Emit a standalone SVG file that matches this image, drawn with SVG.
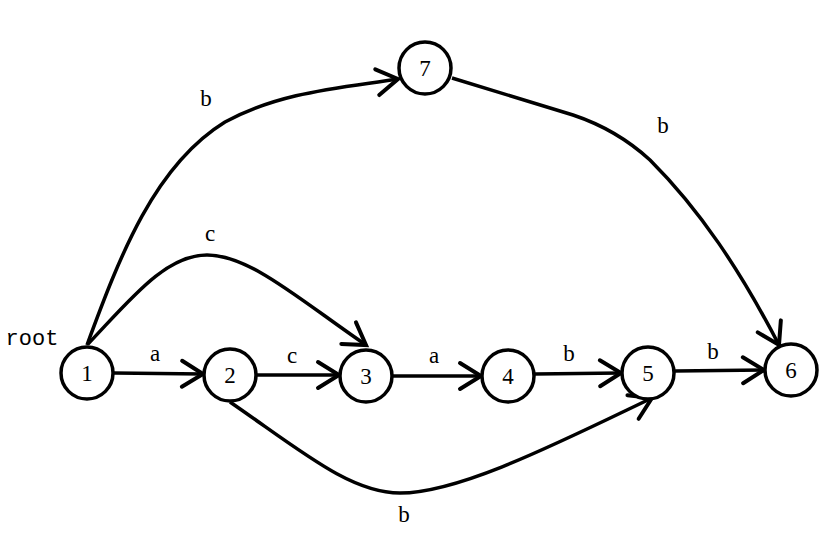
<svg xmlns="http://www.w3.org/2000/svg" width="836" height="536" viewBox="0 0 836 536">
<style>
.n circle{fill:#fff;stroke:#000;stroke-width:3.5}
text{font-family:"Liberation Serif","DejaVu Serif",serif;font-size:23px;fill:#000;text-anchor:middle}
text.mono{font-family:"Liberation Mono","DejaVu Sans Mono",monospace;font-size:22px}
.e path{fill:none;stroke:#000;stroke-width:3.5;marker-end:url(#ah)}
</style>
<defs>
<marker id="ah" markerUnits="userSpaceOnUse" markerWidth="30" markerHeight="30" refX="0" refY="0" orient="auto" overflow="visible">
<path d="M-21,-13 L0,0 L-21,13" fill="none" stroke="#000" stroke-width="4" stroke-linecap="round" stroke-linejoin="miter"/>
</marker>
</defs>
<rect width="836" height="536" fill="#fff"/>
<g id="connectors" class="e">
<path d="M114,373 L203,374"/>
<path d="M257,375 L339,375"/>
<path d="M393,376 L481,376"/>
<path d="M535,374 L621,373"/>
<path d="M675,371 L764,370"/>
<path d="M87,345 C120,255 155,165 225,122 C280,92 340,88 398,79"/>
<path d="M452,78 L573,115 C600,124 625,137 650,160 C700,210 740,270 779,345"/>
<path d="M88,344 C130,300 165,255 207,255 C250,255 300,300 366,345"/>
<path d="M230,402 C300,450 350,493 400,493 C460,493 560,442 652,398"/>
</g>
<g id="labels">
<text x="155" y="361">a</text>
<text x="292" y="363">c</text>
<text x="434" y="363">a</text>
<text x="569" y="361">b</text>
<text x="713" y="359">b</text>
<text x="206" y="106">b</text>
<text x="663" y="133">b</text>
<text x="210" y="241">c</text>
<text x="404" y="522">b</text>
<text class="mono" x="32" y="345">root</text>
</g>
<g id="n1" class="n"><circle cx="87" cy="373" r="26"/><text x="87" y="381">1</text></g>
<g id="n2" class="n"><circle cx="230" cy="375" r="26"/><text x="230" y="383">2</text></g>
<g id="n3" class="n"><circle cx="366" cy="376" r="26"/><text x="366" y="384">3</text></g>
<g id="n4" class="n"><circle cx="508" cy="376" r="26"/><text x="508" y="384">4</text></g>
<g id="n5" class="n"><circle cx="648" cy="373" r="26"/><text x="648" y="381">5</text></g>
<g id="n6" class="n"><circle cx="791" cy="370" r="26"/><text x="791" y="378">6</text></g>
<g id="n7" class="n"><circle cx="425" cy="68" r="26"/><text x="425" y="76">7</text></g>
</svg>
